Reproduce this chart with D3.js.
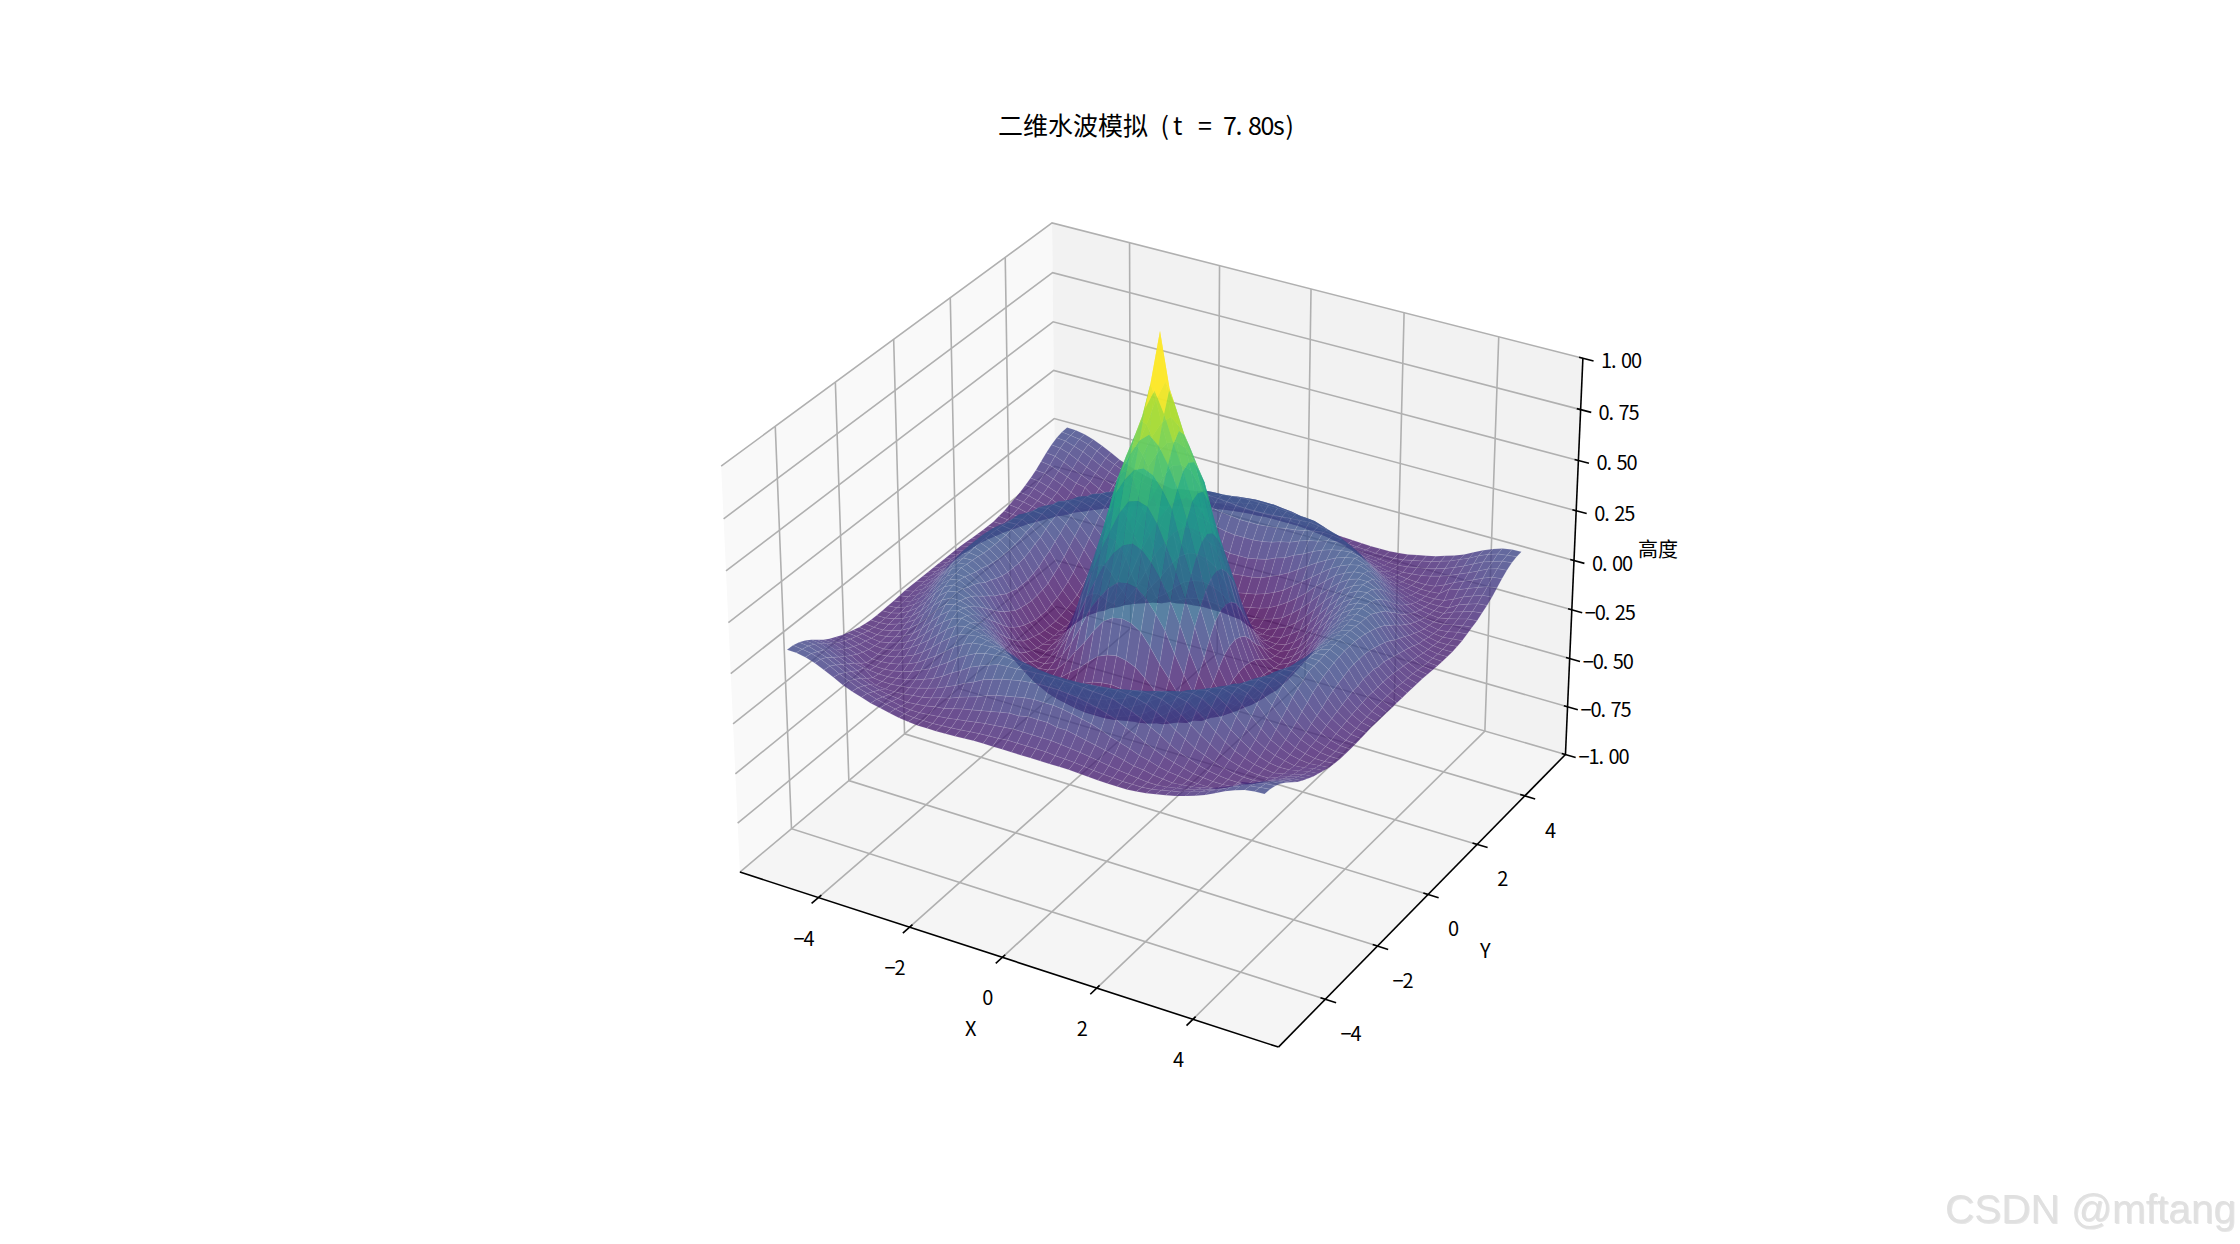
<!DOCTYPE html>
<html>
<head>
<meta charset="utf-8">
<script src="https://cdn.jsdelivr.net/npm/d3@7"></script>
<style>
    html, body { margin: 0; padding: 0; background: #fff; }
    svg { display: block; }
    text { font-family: "Noto Sans CJK SC", sans-serif; fill: #000; }
</style>
</head>
<body>
<script>
// tick values and labels
const xTicks = [-4, -2, 0, 2, 4];
const yTicks = [-4, -2, 0, 2, 4];
const zTicks = [-1, -0.75, -0.5, -0.25, 0, 0.25, 0.5, 0.75, 1];
const chartTitle = '二维水波模拟 (t = 7.80s)';
const xLabel = 'X', yLabel = 'Y', zLabel = '高度';
const watermark = 'CSDN @mftang';

// surface grid, spacing 0.2 from -5 to 5
const gridStep = 0.2;
const gridHalf = 25;

// heights, the surface is mirrored about both axes and the diagonal
// heightRows[i][j] is the height at |x| = i*step, |y| = j*step with j <= i
const heightRows = [
    [1.38],
    [1.12, 1.02],
    [.93, .89, .81],
    [.79, .77, .71, .63],
    [.655, .64, .57, .47, .36],
    [.47, .45, .40, .33, .24, .14],
    [.30, .29, .25, .19, .12, .02, -.07],
    [.15, .14, .11, .05, -.02, -.08, -.145, -.195],
    [-.01, -.02, -.04, -.08, -.125, -.16, -.20, -.215, -.22],
    [-.13, -.135, -.145, -.165, -.19, -.21, -.22, -.22, -.21, -.18],
    [-.20, -.20, -.205, -.21, -.22, -.225, -.22, -.20, -.18, -.145, -.10],
    [-.225, -.225, -.225, -.22, -.215, -.205, -.19, -.17, -.135, -.095, -.05, 0],
    [-.21, -.21, -.205, -.195, -.185, -.17, -.145, -.115, -.08, -.04, .005, .045, .085],
    [-.17, -.17, -.16, -.15, -.135, -.115, -.09, -.055, -.02, .015, .05, .085, .11, .13],
    [-.11, -.105, -.10, -.09, -.07, -.05, -.025, .005, .035, .065, .09, .115, .13, .14, .125],
    [-.04, -.04, -.03, -.02, 0, .015, .04, .06, .085, .105, .12, .13, .135, .125, .095, .055],
    [.03, .03, .035, .045, .06, .07, .09, .105, .115, .13, .138, .13, .12, .09, .055, .015, -.02],
    [.085, .085, .09, .095, .105, .11, .12, .13, .137, .135, .128, .107, .08, .045, .01, -.02, -.05, -.07],
    [.12, .12, .122, .128, .132, .135, .14, .134, .128, .114, .09, .065, .03, 0, -.03, -.05, -.07, -.085, -.095],
    [.14, .14, .138, .135, .13, .128, .124, .107, .09, .07, .04, .015, -.015, -.04, -.058, -.075, -.087, -.095, -.10, -.10],
    [.12, .12, .115, .11, .10, .09, .075, .06, .035, .015, -.01, -.03, -.05, -.065, -.078, -.09, -.095, -.10, -.10, -.095, -.06],
    [.07, .07, .065, .055, .045, .035, .02, 0, -.015, -.03, -.048, -.06, -.075, -.085, -.09, -.097, -.10, -.10, -.095, -.075, -.05, -.03],
    [.01, .01, 0, 0, -.01, -.02, -.03, -.04, -.05, -.062, -.075, -.08, -.09, -.095, -.10, -.095, -.09, -.08, -.067, -.05, -.03, -.01, .012],
    [-.04, -.04, -.04, -.045, -.05, -.055, -.062, -.07, -.077, -.085, -.09, -.095, -.10, -.10, -.095, -.085, -.078, -.065, -.05, -.032, -.012, .012, .035, .05],
    [-.07, -.07, -.07, -.075, -.077, -.08, -.085, -.09, -.094, -.097, -.10, -.10, -.10, -.095, -.085, -.075, -.065, -.05, -.035, -.015, .005, .03, .05, .065, .072],
    [-.09, -.09, -.09, -.09, -.09, -.09, -.093, -.096, -.098, -.10, -.10, -.10, -.095, -.09, -.08, -.07, -.06, -.045, -.03, -.012, .012, .035, .055, .07, .078, .08]
];

const width = 2240, height = 1244;
const xyLimit = 5.75, zLimit = 1;

// world box like mplot3d, aspect 4:4:3
const boxXY = 0.5714, boxZ = 0.4286;
const x = d3.scaleLinear().domain([-xyLimit, xyLimit]).range([-boxXY, boxXY]);
const y = d3.scaleLinear().domain([-xyLimit, xyLimit]).range([-boxXY, boxXY]);
const z = d3.scaleLinear().domain([-zLimit, zLimit]).range([-boxZ, boxZ]);

// view plane to pixels, fitted on the corners of the box
const screenX = d3.scaleLinear().domain([0, 1]).range([1160, 1700]);
const screenY = d3.scaleLinear().domain([0, 1]).range([616, 76]);

// elev 30, azim -60, eye distance 10
const elev = 30 * Math.PI / 180, azim = -60 * Math.PI / 180, eyeDist = 10;
const viewW = [Math.cos(elev) * Math.cos(azim), Math.cos(elev) * Math.sin(azim), Math.sin(elev)];
const viewU = [-Math.sin(azim), Math.cos(azim), 0];
const viewV = [viewW[1] * viewU[2] - viewW[2] * viewU[1], viewW[2] * viewU[0] - viewW[0] * viewU[2], viewW[0] * viewU[1] - viewW[1] * viewU[0]];

function project(px, py, pz) {
    let p = [x(px), y(py), z(pz)];
    let u = d3.sum(p, (d, i) => d * viewU[i]),
        v = d3.sum(p, (d, i) => d * viewV[i]),
        w = d3.sum(p, (d, i) => d * viewW[i]);
    let f = eyeDist / (eyeDist - w);
    return {x: screenX(u * f), y: screenY(v * f), depth: w};
}

function heightAt(i, j) {
    let a = Math.abs(i), b = Math.abs(j);
    return heightRows[Math.max(a, b)][Math.min(a, b)];
}

let svg = d3.select('body').append('svg')
    .attr('width', width)
    .attr('height', height)
    .attr('viewBox', [0, 0, width, height]);

let line = d3.line().x(d => d.x).y(d => d.y);
function path3d(points) {
    return line(points.map(d => project(d[0], d[1], d[2])));
}

// panes
const L = xyLimit, Z = zLimit;
let panes = [
    {fill: '#f9f9f9', pts: [[-L, -L, -Z], [-L, L, -Z], [-L, L, Z], [-L, -L, Z]]},
    {fill: '#f2f2f2', pts: [[-L, L, -Z], [L, L, -Z], [L, L, Z], [-L, L, Z]]},
    {fill: '#f5f5f5', pts: [[-L, -L, -Z], [L, -L, -Z], [L, L, -Z], [-L, L, -Z]]}
];
svg.append('g').selectAll('path').data(panes).join('path')
    .attr('d', d => path3d(d.pts) + 'Z')
    .attr('fill', d => d.fill);

// grid lines
let gridLines = [];
xTicks.forEach(t => gridLines.push([[t, -L, -Z], [t, L, -Z], [t, L, Z]]));
yTicks.forEach(t => gridLines.push([[L, t, -Z], [-L, t, -Z], [-L, t, Z]]));
zTicks.forEach(t => gridLines.push([[-L, -L, t], [-L, L, t], [L, L, t]]));
svg.append('g').selectAll('path').data(gridLines).join('path')
    .attr('d', path3d)
    .attr('fill', 'none')
    .attr('stroke', '#b0b0b0')
    .attr('stroke-width', 1.6);

// axis lines and tick marks
let axisLines = [
    [[-L, -L, -Z], [L, -L, -Z]],
    [[L, -L, -Z], [L, L, -Z]],
    [[L, L, -Z], [L, L, Z]]
];
xTicks.forEach(t => axisLines.push([[t, -L - 0.23, -Z], [t, -L + 0.1, -Z]]));
yTicks.forEach(t => axisLines.push([[L - 0.1, t, -Z], [L + 0.22, t, -Z]]));
zTicks.forEach(t => axisLines.push([[L - 0.08, L, t], [L + 0.22, L, t]]));

// surface, one polygon per grid cell
let cells = [];
for (let i = -gridHalf; i < gridHalf; i++) {
    for (let j = -gridHalf; j < gridHalf; j++) {
        let corners = [[i, j], [i + 1, j], [i + 1, j + 1], [i, j + 1]];
        let pts = corners.map(c => project(c[0] * gridStep, c[1] * gridStep, heightAt(c[0], c[1])));
        cells.push({
            pts: pts,
            depth: d3.mean(pts, d => d.depth),
            mean: d3.mean(corners, c => heightAt(c[0], c[1])),
            area: d3.polygonArea(pts.map(d => [d.x, d.y]))
        });
    }
}
// far cells first, painter style
cells.sort((a, b) => d3.ascending(a.depth, b.depth));

let color = d3.scaleSequential(d3.interpolateViridis)
    .domain(d3.extent(cells, d => d.mean));

// thin pale edge stands in for the seams of the mesh
// the tall cone and the cells seen edge on or from behind show none
function hasSeam(d) {
    return d.mean < 0.2 && Math.abs(d.area) > 45;
}

svg.append('g').selectAll('path').data(cells).join('path')
    .attr('d', d => line(d.pts) + 'Z')
    .attr('fill', d => color(d.mean))
    .attr('fill-opacity', 0.8)
    .attr('stroke', d => hasSeam(d) ? '#fff' : 'none')
    .attr('stroke-opacity', 0.12)
    .attr('stroke-width', 0.7);

// axes stay on top of the surface like in the picture
svg.append('g').selectAll('path').data(axisLines).join('path')
    .attr('d', path3d)
    .attr('fill', 'none')
    .attr('stroke', '#000')
    .attr('stroke-width', 1.6);

// simhei digits are half width, so every glyph gets its own x
function placeText(str, cx, baseline, size) {
    let chars = Array.from(str);
    let advances = chars.map(c => c.charCodeAt(0) > 0x2fff ? size : size / 2);
    let total = d3.sum(advances);
    let pos = cx - total / 2;
    let xs = [];
    advances.forEach(a => { xs.push(pos.toFixed(1)); pos += a; });
    return svg.append('text')
        .attr('x', xs.join(' '))
        .attr('y', baseline)
        .style('font-size', size + 'px')
        .text(str);
}

function tickText(v, digits) {
    return (v < 0 ? '\u2212' : '') + Math.abs(v).toFixed(digits);
}

xTicks.forEach(t => {
    let p = project(t, -L, -Z);
    placeText(tickText(t, 0), p.x - 15, p.y + 48, 20);
});
yTicks.forEach(t => {
    let p = project(L, t, -Z);
    placeText(tickText(t, 0), p.x + 25, p.y + 42, 20);
});
zTicks.forEach(t => {
    let p = project(L, L, t);
    placeText(tickText(t, 2), p.x + 38, p.y + 10, 20);
});

placeText(chartTitle, 1148, 135, 25);
placeText(xLabel, 970, 1036, 20);
placeText(yLabel, 1485, 958, 20);
placeText(zLabel, 1658, 557, 20);

svg.append('text')
    .attr('x', 1945)
    .attr('y', 1223)
    .style('font-family', '"Liberation Sans", sans-serif')
    .style('font-size', '40.5px')
    .style('fill', '#e0e0e0')
    .style('filter', 'drop-shadow(1px 1px 0 rgba(0,0,0,.1))')
    .text(watermark);
</script>
</body>
</html>
